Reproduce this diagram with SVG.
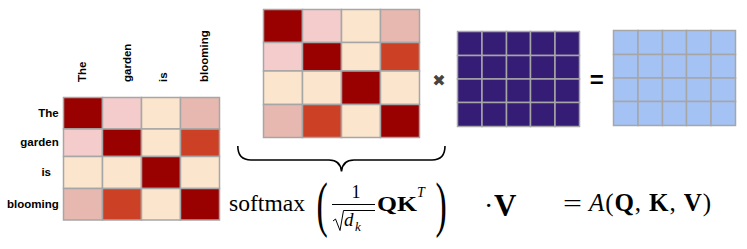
<svg xmlns="http://www.w3.org/2000/svg" width="747" height="249" viewBox="0 0 747 249">
<style>
  .cell { stroke: #a6a6a6; stroke-width: 1.5; }
  .dk { fill: #990000; }
  .pk { fill: #f4cccc; }
  .pc { fill: #fce5cd; }
  .rs { fill: #e6b8af; }
  .or { fill: #cc4125; }
  .pu { fill: #351c75; }
  .bl { fill: #a4c2f4; }
  .lbl { font-family: "Liberation Sans", Arial, sans-serif; font-weight: bold; font-size: 11.5px; fill: #000; }
  .math { font-family: "Liberation Serif", "Times New Roman", serif; fill: #000; }
  .b { font-weight: bold; }
  .i { font-style: italic; }
  .op { font-family: "DejaVu Sans", sans-serif; }
</style>
<rect width="747" height="249" fill="#ffffff"/>

<g id="attention-heatmap">
  <rect class="cell dk" x="63.5" y="97.5" width="39" height="31.5"/>
  <rect class="cell pk" x="102.5" y="97.5" width="39" height="31.5"/>
  <rect class="cell pc" x="141.5" y="97.5" width="39" height="31.5"/>
  <rect class="cell rs" x="180.5" y="97.5" width="39" height="31.5"/>
  <rect class="cell pk" x="63.5" y="129" width="39" height="27.5"/>
  <rect class="cell dk" x="102.5" y="129" width="39" height="27.5"/>
  <rect class="cell pc" x="141.5" y="129" width="39" height="27.5"/>
  <rect class="cell or" x="180.5" y="129" width="39" height="27.5"/>
  <rect class="cell pc" x="63.5" y="156.5" width="39" height="32"/>
  <rect class="cell pc" x="102.5" y="156.5" width="39" height="32"/>
  <rect class="cell dk" x="141.5" y="156.5" width="39" height="32"/>
  <rect class="cell pc" x="180.5" y="156.5" width="39" height="32"/>
  <rect class="cell rs" x="63.5" y="188.5" width="39" height="31.5"/>
  <rect class="cell or" x="102.5" y="188.5" width="39" height="31.5"/>
  <rect class="cell pc" x="141.5" y="188.5" width="39" height="31.5"/>
  <rect class="cell dk" x="180.5" y="188.5" width="39" height="31.5"/>
  <text class="lbl" transform="translate(86,82) rotate(-90)">The</text>
  <text class="lbl" transform="translate(130.5,82) rotate(-90)">garden</text>
  <text class="lbl" transform="translate(167,82) rotate(-90)">is</text>
  <text class="lbl" transform="translate(207.8,82) rotate(-90)">blooming</text>
  <text class="lbl" x="58.7" y="116.8" text-anchor="end">The</text>
  <text class="lbl" x="58.7" y="145.5" text-anchor="end">garden</text>
  <text class="lbl" x="51" y="176.3" text-anchor="end">is</text>
  <text class="lbl" x="58.7" y="208.3" text-anchor="end">blooming</text>
</g>

<g id="softmax-matrix">
  <rect class="cell dk" x="263.5" y="9.5" width="39" height="33"/>
  <rect class="cell pk" x="302.5" y="9.5" width="39" height="33"/>
  <rect class="cell pc" x="341.5" y="9.5" width="39" height="33"/>
  <rect class="cell rs" x="380.5" y="9.5" width="39" height="33"/>
  <rect class="cell pk" x="263.5" y="42.5" width="39" height="28.5"/>
  <rect class="cell dk" x="302.5" y="42.5" width="39" height="28.5"/>
  <rect class="cell pc" x="341.5" y="42.5" width="39" height="28.5"/>
  <rect class="cell or" x="380.5" y="42.5" width="39" height="28.5"/>
  <rect class="cell pc" x="263.5" y="71" width="39" height="33.5"/>
  <rect class="cell pc" x="302.5" y="71" width="39" height="33.5"/>
  <rect class="cell dk" x="341.5" y="71" width="39" height="33.5"/>
  <rect class="cell pc" x="380.5" y="71" width="39" height="33.5"/>
  <rect class="cell rs" x="263.5" y="104.5" width="39" height="33"/>
  <rect class="cell or" x="302.5" y="104.5" width="39" height="33"/>
  <rect class="cell pc" x="341.5" y="104.5" width="39" height="33"/>
  <rect class="cell dk" x="380.5" y="104.5" width="39" height="33"/>
</g>

<g id="multiply-sign">
  <text class="op" x="439" y="85.6" font-size="16" fill="#444444" text-anchor="middle">✖</text>
</g>

<g id="value-matrix">
  <rect class="cell pu" x="457.5" y="31.5" width="24.5" height="24"/>
  <rect class="cell pu" x="482" y="31.5" width="24.5" height="24"/>
  <rect class="cell pu" x="506.5" y="31.5" width="24" height="24"/>
  <rect class="cell pu" x="530.5" y="31.5" width="24.5" height="24"/>
  <rect class="cell pu" x="555" y="31.5" width="24.5" height="24"/>
  <rect class="cell pu" x="457.5" y="55.5" width="24.5" height="23.5"/>
  <rect class="cell pu" x="482" y="55.5" width="24.5" height="23.5"/>
  <rect class="cell pu" x="506.5" y="55.5" width="24" height="23.5"/>
  <rect class="cell pu" x="530.5" y="55.5" width="24.5" height="23.5"/>
  <rect class="cell pu" x="555" y="55.5" width="24.5" height="23.5"/>
  <rect class="cell pu" x="457.5" y="79" width="24.5" height="23.5"/>
  <rect class="cell pu" x="482" y="79" width="24.5" height="23.5"/>
  <rect class="cell pu" x="506.5" y="79" width="24" height="23.5"/>
  <rect class="cell pu" x="530.5" y="79" width="24.5" height="23.5"/>
  <rect class="cell pu" x="555" y="79" width="24.5" height="23.5"/>
  <rect class="cell pu" x="457.5" y="102.5" width="24.5" height="24"/>
  <rect class="cell pu" x="482" y="102.5" width="24.5" height="24"/>
  <rect class="cell pu" x="506.5" y="102.5" width="24" height="24"/>
  <rect class="cell pu" x="530.5" y="102.5" width="24.5" height="24"/>
  <rect class="cell pu" x="555" y="102.5" width="24.5" height="24"/>
</g>

<g id="equals-sign">
  <text x="589.7" y="88.3" font-family="Liberation Sans, Arial, sans-serif" font-weight="bold" font-size="24" fill="#000">=</text>
</g>

<g id="output-matrix">
  <rect class="cell bl" x="613.5" y="30.5" width="24.5" height="24"/>
  <rect class="cell bl" x="638" y="30.5" width="24.5" height="24"/>
  <rect class="cell bl" x="662.5" y="30.5" width="24" height="24"/>
  <rect class="cell bl" x="686.5" y="30.5" width="24.5" height="24"/>
  <rect class="cell bl" x="711" y="30.5" width="24.5" height="24"/>
  <rect class="cell bl" x="613.5" y="54.5" width="24.5" height="23.5"/>
  <rect class="cell bl" x="638" y="54.5" width="24.5" height="23.5"/>
  <rect class="cell bl" x="662.5" y="54.5" width="24" height="23.5"/>
  <rect class="cell bl" x="686.5" y="54.5" width="24.5" height="23.5"/>
  <rect class="cell bl" x="711" y="54.5" width="24.5" height="23.5"/>
  <rect class="cell bl" x="613.5" y="78" width="24.5" height="23.5"/>
  <rect class="cell bl" x="638" y="78" width="24.5" height="23.5"/>
  <rect class="cell bl" x="662.5" y="78" width="24" height="23.5"/>
  <rect class="cell bl" x="686.5" y="78" width="24.5" height="23.5"/>
  <rect class="cell bl" x="711" y="78" width="24.5" height="23.5"/>
  <rect class="cell bl" x="613.5" y="101.5" width="24.5" height="24"/>
  <rect class="cell bl" x="638" y="101.5" width="24.5" height="24"/>
  <rect class="cell bl" x="662.5" y="101.5" width="24" height="24"/>
  <rect class="cell bl" x="686.5" y="101.5" width="24.5" height="24"/>
  <rect class="cell bl" x="711" y="101.5" width="24.5" height="24"/>
</g>

<g id="connectors">
  <path d="M237.8,146 Q237.8,160 251,160 L329,160 Q340.5,160 341.5,171.5 Q342.5,160 354,160 L432,160 Q445,160 445,146" fill="none" stroke="#000" stroke-width="1.6"/>
</g>

<g id="formula-softmax">
  <text class="math" x="229" y="211" font-size="23" textLength="76" lengthAdjust="spacingAndGlyphs">softmax</text>
  <text class="math" transform="translate(316.5,224.5) scale(0.55,1)" font-size="61.5">(</text>
  <text class="math" x="356" y="198" font-size="18" text-anchor="middle">1</text>
  <line x1="332" y1="204.5" x2="375" y2="204.5" stroke="#000" stroke-width="1"/>
  <path d="M333,221 L335.5,219 L340,230.5 L343.5,210.5 L375,210.5" fill="none" stroke="#000" stroke-width="1"/>
  <text class="math i" x="344" y="226" font-size="19">d</text>
  <text class="math i" x="355" y="230.5" font-size="13">k</text>
  <text class="math b" x="377" y="210.5" font-size="22" textLength="40" lengthAdjust="spacingAndGlyphs">QK</text>
  <text class="math i" x="417" y="197" font-size="14">T</text>
  <text class="math" transform="translate(435.5,224.5) scale(0.55,1)" font-size="61.5">)</text>
</g>

<g id="formula-value">
  <text class="math" x="484" y="214.5" font-size="28">·</text>
  <text class="math b" x="494" y="216" font-size="31">V</text>
</g>

<g id="formula-result">
  <text class="math" transform="translate(563,211) scale(1.4,1)" font-size="24">=</text>
  <text class="math" x="589" y="211" font-size="25" textLength="122" lengthAdjust="spacing"><tspan class="i">A</tspan>(<tspan class="b">Q</tspan>, <tspan class="b">K</tspan>, <tspan class="b">V</tspan>)</text>
</g>
</svg>
